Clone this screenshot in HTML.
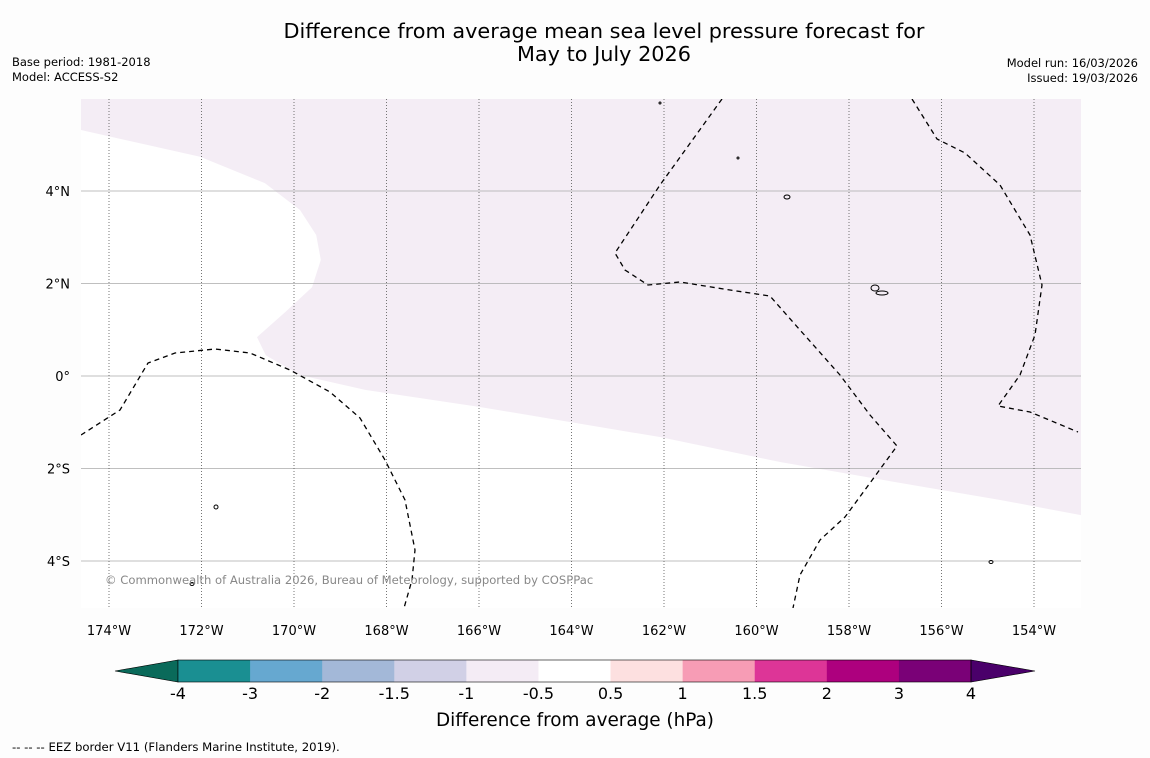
<!DOCTYPE html>
<html><head><meta charset="utf-8"><style>
body{margin:0;background:#fdfdfd;width:1150px;height:758px;overflow:hidden;font-family:"DejaVu Sans","Liberation Sans",sans-serif}
svg{position:absolute;left:0;top:0;font-family:"DejaVu Sans","Liberation Sans",sans-serif}
</style></head><body>
<svg width="1150" height="758" id="svg">
<text x="604" y="38" text-anchor="middle" font-size="20.8">Difference from average mean sea level pressure forecast for</text>
<text x="604" y="61" text-anchor="middle" font-size="20.8">May to July 2026</text>
<text x="12" y="66" font-size="11.5">Base period: 1981-2018</text>
<text x="12" y="81" font-size="11.5">Model: ACCESS-S2</text>
<text x="1138" y="67" font-size="11.5" text-anchor="end">Model run: 16/03/2026</text>
<text x="1138" y="82" font-size="11.5" text-anchor="end">Issued: 19/03/2026</text>
<g id="map"></g>
<text x="105" y="584" font-size="11.6" fill="#888">© Commonwealth of Australia 2026, Bureau of Meteorology, supported by COSPPac</text>
<g id="cbar"></g>
<text x="575" y="726" font-size="18.4" text-anchor="middle">Difference from average (hPa)</text>
<text x="12" y="751" font-size="11.7">--  --  -- EEZ border V11 (Flanders Marine Institute, 2019).</text>
</svg>
<script>
const lonTicks=[-174,-172,-170,-168,-166,-164,-162,-160,-158,-156,-154];
const latTicks=[4,2,0,-2,-4];
const shadeLon=[-174.61,-172.03,-170.63,-169.87,-169.52,-169.42,-169.61,-170.19,-170.80,-170.61,-169.87,-168.46,-165.98,-162.09,-159.49,-156.90,-154.73,-152.98,-152.98,-174.61];
const shadeLat=[5.32,4.74,4.17,3.59,3.05,2.51,1.92,1.38,0.84,0.45,0.02,-0.30,-0.67,-1.32,-1.86,-2.31,-2.68,-3.01,5.99,5.99];
const cbLevels=["-4","-3","-2","-1.5","-1","-0.5","0.5","1","1.5","2","3","4"];
const cbColors=["#1a8f92","#66a8d0","#a3b8d8","#d1d0e6","#f4ecf5","#ffffff","#fde0e0","#f79cb5","#dd3597","#ad007e","#7a0177"];
const NS="http://www.w3.org/2000/svg";
const X0=81,X1=1081,Y0=99,Y1=608;
const xS=lon=>109+(lon+174)*46.25;
const yS=lat=>376-lat*46.25;
function mk(tag,attrs,parent){const e=document.createElementNS(NS,tag);for(const k in attrs)e.setAttribute(k,attrs[k]);parent.appendChild(e);return e;}
const map=document.getElementById('map');
const cp=mk('clipPath',{id:'clip'},map);mk('rect',{x:X0,y:Y0,width:X1-X0,height:Y1-Y0},cp);
const g=mk('g',{'clip-path':'url(#clip)'},map);
mk('rect',{x:X0,y:Y0,width:X1-X0,height:Y1-Y0,fill:'#ffffff'},g);
const pts=shadeLon.map((l,i)=>xS(l)+','+yS(shadeLat[i])).join(' ');
const poly=mk('polygon',{points:pts,fill:'#f4edf5'},g);


latTicks.forEach(v=>{
 const l=mk('line',{x1:X0,x2:X1,y1:yS(v),y2:yS(v),stroke:'#aaa','stroke-width':0.8},g);
 
 const t=mk('text',{x:70,y:yS(v)+5,'font-size':13,'text-anchor':'end'},map);
 
 t.textContent=v===0?'0°':Math.abs(v)+'°'+(v>0?'N':'S');
});
lonTicks.forEach(v=>{
 const l=mk('line',{x1:xS(v),x2:xS(v),y1:Y0,y2:Y1,stroke:'#555','stroke-width':0.8,'stroke-dasharray':'1,2'},g);
 
 const t=mk('text',{x:xS(v),y:635,'font-size':13,'text-anchor':'middle'},map);
 
 t.textContent=Math.abs(v)+'°W';
});
const eez=["M81,435 L120,410 L148,363 L175,353 L215,349 L250,353 L290,370 L330,392 L360,418 L385,460 L405,500 L415,550 L412,580 L404,608",
"M722,99 L660,185 L615,253 L625,270 L648,285 L680,282 L730,290 L770,296 L800,330 L840,375 L870,415 L897,446 L870,483 L845,517 L820,540 L800,575 L793,608",
"M912,99 L937,139 L965,153 L1000,185 L1030,235 L1042,285 L1035,335 L1020,375 L998,406 L1030,412 L1078,432"];
eez.forEach(d=>{const p=mk('path',{d:d,fill:'none',stroke:'#000','stroke-width':1.3,'stroke-dasharray':'5,4'},g);
 });
[[787,197,3,2],[875,288,4,3],[882,293,6,2],[216,507,2,2],[192,584,2,1.5],[991,562,2,1.5],[660,103,1,1],[738,158,1,1]].forEach(a=>{
 const e=mk('ellipse',{cx:a[0],cy:a[1],rx:a[2],ry:a[3],fill:'none',stroke:'#000','stroke-width':1},g);
 });
const cb=document.getElementById('cbar');
const cx0=178,cw=(971-178)/(cbLevels.length-1),cy=660,ch=22;
const lo=mk('polygon',{points:`115,${cy+ch/2} ${cx0},${cy} ${cx0},${cy+ch}`,fill:'#0a6a5a',stroke:'#000','stroke-width':0.6},cb);

cbColors.forEach((c,i)=>{const r=mk('rect',{x:cx0+i*cw,y:cy,width:cw+0.5,height:ch,fill:c},cb);
 });
const xe=cx0+cbColors.length*cw;
const hi=mk('polygon',{points:`${xe},${cy} ${xe},${cy+ch} 1035,${cy+ch/2}`,fill:'#4a006a',stroke:'#000','stroke-width':0.6},cb);

mk('rect',{x:cx0,y:cy,width:xe-cx0,height:ch,fill:'none',stroke:'#000','stroke-width':0.6},cb);
cbLevels.forEach((v,i)=>{const t=mk('text',{x:cx0+i*cw,y:699,'font-size':16,'text-anchor':'middle'},cb);
 t.textContent=v;});
</script>
</body></html>
